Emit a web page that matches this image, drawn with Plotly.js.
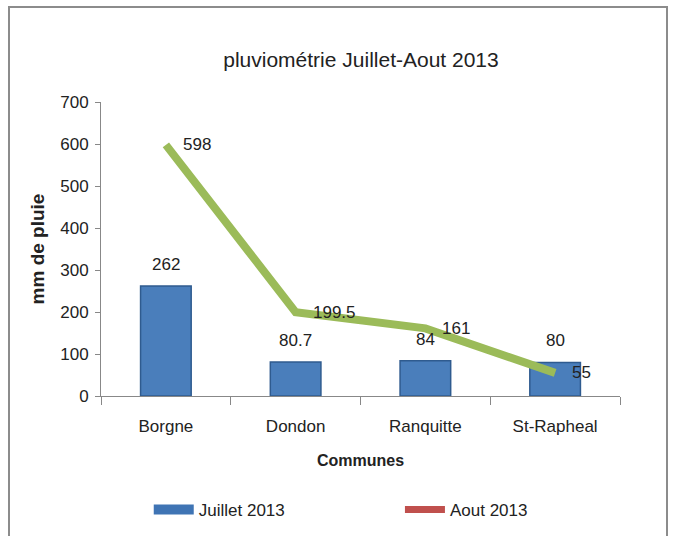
<!DOCTYPE html>
<html>
<head>
<meta charset="utf-8">
<script src="https://cdn.plot.ly/plotly-3.0.1.min.js"></script>
<style>
  html, body { margin: 0; padding: 0; background: #fff; }
  #wrap { position: relative; width: 676px; height: 536px; }
  #chart { width: 676px; height: 536px; }
  #frame { position: absolute; left: 8px; top: 6px; width: 660px; height: 540px;
           border: 2px solid #8c8c8c; pointer-events: none; box-sizing: border-box; }
</style>
</head>
<body>
<div id="wrap">
  <div id="chart"></div>
  <div id="frame"></div>
</div>
<script>
const communes = ["Borgne", "Dondon", "Ranquitte", "St-Rapheal"];
const juillet2013 = [262, 80.7, 84, 80];
const aout2013 = [598, 199.5, 161, 55];
const yTicks = [0, 100, 200, 300, 400, 500, 600, 700];

const FONT = "Liberation Sans, Arial, sans-serif";
const TXT = "#222";

const traces = [
  {
    type: "bar",
    name: "Juillet 2013",
    x: communes,
    y: juillet2013,
    width: 0.39,
    marker: { color: "#4a7ebb", line: { color: "#2f5b8f", width: 1.5 } },
    showlegend: false
  },
  {
    type: "scatter",
    mode: "lines",
    name: "Aout 2013",
    x: communes,
    y: aout2013,
    line: { color: "#9bbb59", width: 8 },
    showlegend: false
  },
  {
    type: "scatter", mode: "lines", name: "Juillet 2013",
    x: [null], y: [null],
    line: { color: "#3f74b4", width: 10 },
    showlegend: true, legend: "legend"
  },
  {
    type: "scatter", mode: "lines", name: "Aout 2013",
    x: [null], y: [null],
    line: { color: "#c0504d", width: 7 },
    showlegend: true, legend: "legend2"
  }
];

const barLabels = communes.map((c, i) => ({
  x: c, y: juillet2013[i], xref: "x", yref: "y",
  text: String(juillet2013[i]), showarrow: false,
  xanchor: "center", yanchor: "bottom", yshift: 10,
  font: { family: FONT, size: 17, color: TXT }
}));
const lineLabels = communes.map((c, i) => ({
  x: c, y: aout2013[i], xref: "x", yref: "y",
  text: String(aout2013[i]), showarrow: false,
  xanchor: "left", yanchor: "middle", xshift: 15,
  font: { family: FONT, size: 17, color: TXT }
}));

const legendCommon = {
  orientation: "h",
  yref: "container",
  y: 0.0485, yanchor: "middle",
  xanchor: "left",
  font: { family: FONT, size: 17, color: TXT },
  itemwidth: 40,
  bgcolor: "rgba(0,0,0,0)"
};

const layout = {
  width: 676,
  height: 536,
  margin: { l: 101, r: 56, t: 102, b: 140 },
  paper_bgcolor: "#ffffff",
  plot_bgcolor: "#ffffff",
  font: { family: FONT, size: 16, color: TXT },
  title: {
    text: "pluviométrie Juillet-Aout 2013",
    font: { family: FONT, size: 21, color: TXT },
    x: 0.534, xanchor: "center",
    y: 0.888, yanchor: "middle"
  },
  xaxis: {
    type: "category",
    title: { text: "<b>Communes</b>", font: { family: FONT, size: 16, color: TXT }, standoff: 19 },
    showline: true, linecolor: "#888", linewidth: 1,
    ticks: "outside", tickson: "boundaries", ticklen: 8, tickcolor: "#888",
    ticklabelstandoff: 15,
    showgrid: false, zeroline: false,
    tickfont: { family: FONT, size: 17, color: TXT }
  },
  yaxis: {
    title: { text: "<b>mm de pluie</b>", font: { family: FONT, size: 19, color: TXT }, standoff: 10 },
    range: [0, 700],
    tickvals: yTicks,
    ticktext: yTicks.map(String),
    showline: true, linecolor: "#888", linewidth: 1,
    ticks: "outside", ticklen: 5, tickcolor: "#888",
    ticklabelstandoff: 3,
    showgrid: false, zeroline: false,
    tickfont: { family: FONT, size: 17, color: TXT }
  },
  legend: Object.assign({}, legendCommon, { x: 0.092 }),
  legend2: Object.assign({}, legendCommon, { x: 0.576 }),
  annotations: barLabels.concat(lineLabels)
};

Plotly.newPlot("chart", traces, layout, { displayModeBar: false, staticPlot: true });
</script>
</body>
</html>
